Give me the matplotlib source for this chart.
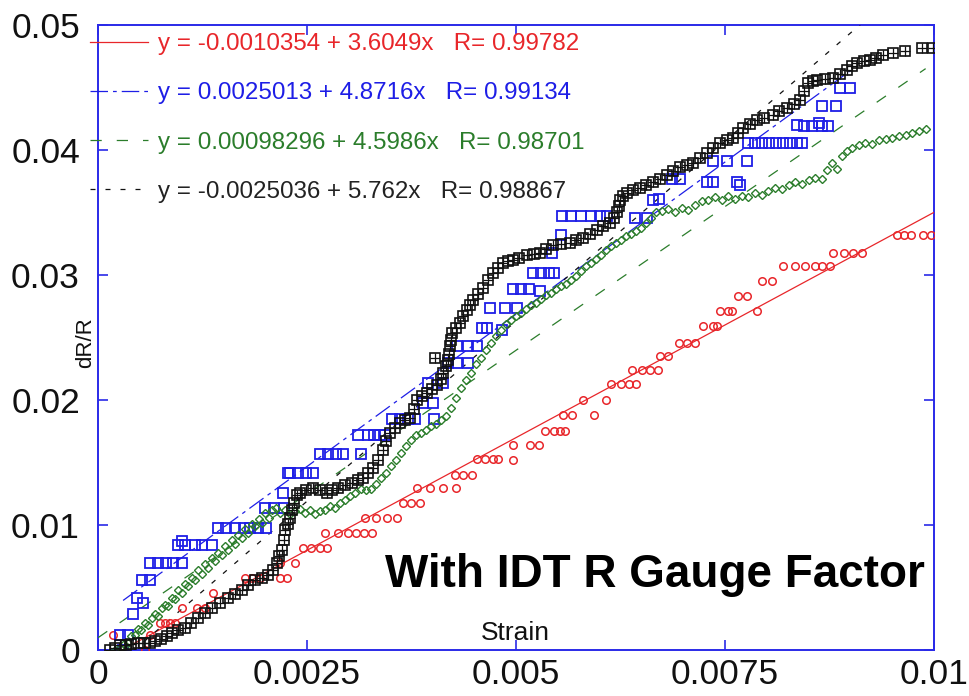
import matplotlib
matplotlib.use('Agg')
import matplotlib.pyplot as plt
import numpy as np

plt.rcParams['font.family'] = ['Liberation Sans', 'DejaVu Sans']

# ---------------- data (strain, dR/R) ----------------
red_pts = [
    (0.00018, 0.0012), (0.00056, 0.0000), (0.00062, 0.0012), (0.00074, 0.0022), (0.00080, 0.0022),
    (0.00086, 0.0022), (0.00092, 0.0022), (0.00100, 0.0034), (0.00118, 0.0034), (0.00128, 0.0034),
    (0.00137, 0.0046), (0.00176, 0.0058), (0.00184, 0.0058), (0.00194, 0.0058), (0.00218, 0.0058),
    (0.00226, 0.0058), (0.00218, 0.0070), (0.00236, 0.0070), (0.00245, 0.0082), (0.00255, 0.0082),
    (0.00265, 0.0082), (0.00274, 0.0082), (0.00272, 0.0094), (0.00287, 0.0094), (0.00299, 0.0094),
    (0.00309, 0.0094), (0.00318, 0.0094), (0.00328, 0.0094), (0.00319, 0.0106), (0.00333, 0.0106),
    (0.00346, 0.0106), (0.00358, 0.0106), (0.00365, 0.0118), (0.00374, 0.0118), (0.00385, 0.0118),
    (0.00382, 0.0130), (0.00397, 0.0130), (0.00413, 0.0130), (0.00428, 0.0130), (0.00427, 0.0140),
    (0.00437, 0.0140), (0.00447, 0.0140), (0.00453, 0.0153), (0.00463, 0.0153), (0.00472, 0.0153),
    (0.00478, 0.0153), (0.00497, 0.0152), (0.00497, 0.0164), (0.00517, 0.0164), (0.00527, 0.0164),
    (0.00535, 0.0175), (0.00546, 0.0175), (0.00553, 0.0175), (0.00559, 0.0175), (0.00556, 0.0188),
    (0.00567, 0.0188), (0.00593, 0.0188), (0.00580, 0.0200), (0.00608, 0.0200), (0.00614, 0.0213),
    (0.00626, 0.0213), (0.00635, 0.0213), (0.00644, 0.0213), (0.00639, 0.0224), (0.00651, 0.0224),
    (0.00660, 0.0224), (0.00670, 0.0224), (0.00672, 0.0235), (0.00682, 0.0235), (0.00695, 0.0246),
    (0.00704, 0.0246), (0.00714, 0.0246), (0.00724, 0.0259), (0.00736, 0.0259), (0.00740, 0.0259),
    (0.00744, 0.0271), (0.00753, 0.0271), (0.00758, 0.0271), (0.00788, 0.0271), (0.00766, 0.0283),
    (0.00776, 0.0283), (0.00794, 0.0295), (0.00806, 0.0295), (0.00819, 0.0307), (0.00834, 0.0307),
    (0.00846, 0.0307), (0.00858, 0.0307), (0.00866, 0.0307), (0.00876, 0.0307), (0.00879, 0.0318),
    (0.00892, 0.0318), (0.00903, 0.0318), (0.00914, 0.0318), (0.00956, 0.0332), (0.00964, 0.0332),
    (0.00972, 0.0332), (0.00987, 0.0332), (0.00997, 0.0332),
]

blue_pts = [
    (0.00026, 0.0012), (0.00036, 0.0012), (0.00030, 0.0000), (0.00042, 0.0029), (0.00047, 0.0042),
    (0.00054, 0.0038), (0.00053, 0.0056), (0.00062, 0.0056), (0.00062, 0.0070), (0.00072, 0.0070),
    (0.00081, 0.0070), (0.00090, 0.0070), (0.00100, 0.0070), (0.00096, 0.0084), (0.00104, 0.0084),
    (0.00100, 0.0087), (0.00116, 0.0084), (0.00124, 0.0084), (0.00136, 0.0084), (0.00144, 0.0098),
    (0.00153, 0.0098), (0.00164, 0.0098), (0.00175, 0.0098), (0.00182, 0.0098), (0.00191, 0.0098),
    (0.00201, 0.0098), (0.00200, 0.0114), (0.00210, 0.0114), (0.00222, 0.0114), (0.00221, 0.0126),
    (0.00227, 0.0142), (0.00230, 0.0142), (0.00239, 0.0142), (0.00249, 0.0142), (0.00257, 0.0142),
    (0.00266, 0.0157), (0.00275, 0.0157), (0.00285, 0.0157), (0.00293, 0.0157), (0.00315, 0.0157),
    (0.00311, 0.0172), (0.00323, 0.0172), (0.00330, 0.0172), (0.00337, 0.0172), (0.00343, 0.0172),
    (0.00352, 0.0185), (0.00361, 0.0185), (0.00371, 0.0185), (0.00379, 0.0185), (0.00402, 0.0185),
    (0.00389, 0.0198), (0.00401, 0.0198), (0.00395, 0.0214), (0.00413, 0.0214), (0.00419, 0.0230),
    (0.00429, 0.0230), (0.00443, 0.0230), (0.00429, 0.0243), (0.00443, 0.0243), (0.00453, 0.0243),
    (0.00459, 0.0258), (0.00465, 0.0258), (0.00483, 0.0256), (0.00469, 0.0274), (0.00487, 0.0274),
    (0.00501, 0.0274), (0.00497, 0.0289), (0.00506, 0.0289), (0.00515, 0.0289), (0.00529, 0.0287),
    (0.00520, 0.0302), (0.00530, 0.0302), (0.00539, 0.0302), (0.00546, 0.0302), (0.00543, 0.0318),
    (0.00554, 0.0332), (0.00555, 0.0347), (0.00566, 0.0347), (0.00578, 0.0347), (0.00590, 0.0347),
    (0.00600, 0.0347), (0.00609, 0.0347), (0.00642, 0.0346), (0.00657, 0.0346), (0.00664, 0.0360),
    (0.00671, 0.0361), (0.00687, 0.0377), (0.00696, 0.0377), (0.00728, 0.0374), (0.00736, 0.0374),
    (0.00764, 0.0374), (0.00768, 0.0372), (0.00736, 0.0391), (0.00752, 0.0391), (0.00776, 0.0391),
    (0.00778, 0.0406), (0.00786, 0.0406), (0.00794, 0.0406), (0.00803, 0.0406), (0.00811, 0.0406),
    (0.00819, 0.0406), (0.00828, 0.0406), (0.00836, 0.0406), (0.00842, 0.0406), (0.00836, 0.0420),
    (0.00844, 0.0419), (0.00854, 0.0419), (0.00862, 0.0422), (0.00866, 0.0419), (0.00873, 0.0419),
    (0.00866, 0.0435), (0.00883, 0.0435), (0.00888, 0.0450), (0.00899, 0.0450),
]

green_pts = [
    (0.00020, 0.0000), (0.00026, 0.0002), (0.00031, 0.0005), (0.00036, 0.0006), (0.00040, 0.0011),
    (0.00044, 0.0012), (0.00048, 0.0017), (0.00052, 0.0016), (0.00056, 0.0022), (0.00060, 0.0020),
    (0.00064, 0.0026), (0.00068, 0.0029), (0.00072, 0.0027), (0.00076, 0.0034), (0.00080, 0.0036),
    (0.00084, 0.0035), (0.00088, 0.0042), (0.00092, 0.0041), (0.00096, 0.0048), (0.00100, 0.0046),
    (0.00104, 0.0053), (0.00108, 0.0051), (0.00112, 0.0058), (0.00116, 0.0056), (0.00120, 0.0064),
    (0.00124, 0.0061), (0.00128, 0.0069), (0.00132, 0.0066), (0.00136, 0.0074), (0.00140, 0.0071),
    (0.00144, 0.0078), (0.00148, 0.0076), (0.00152, 0.0083), (0.00156, 0.0080), (0.00160, 0.0088),
    (0.00164, 0.0085), (0.00168, 0.0092), (0.00172, 0.0090), (0.00176, 0.0097), (0.00180, 0.0094),
    (0.00184, 0.0101), (0.00188, 0.0099), (0.00192, 0.0105), (0.00196, 0.0102), (0.00200, 0.0110),
    (0.00204, 0.0106), (0.00208, 0.0112), (0.00213, 0.0114), (0.00218, 0.0110), (0.00224, 0.0112),
    (0.00230, 0.0109), (0.00236, 0.0111), (0.00242, 0.0113), (0.00248, 0.0110), (0.00254, 0.0112),
    (0.00260, 0.0109), (0.00266, 0.0111), (0.00272, 0.0112), (0.00278, 0.0115), (0.00284, 0.0114),
    (0.00290, 0.0118), (0.00296, 0.0120), (0.00302, 0.0123), (0.00308, 0.0126), (0.00314, 0.0129),
    (0.00320, 0.0128), (0.00326, 0.0129), (0.00332, 0.0133), (0.00338, 0.0138), (0.00344, 0.0142),
    (0.00350, 0.0147), (0.00356, 0.0152), (0.00362, 0.0158), (0.00368, 0.0163), (0.00374, 0.0168),
    (0.00380, 0.0172), (0.00386, 0.0174), (0.00392, 0.0176), (0.00398, 0.0179), (0.00404, 0.0181),
    (0.00410, 0.0184), (0.00416, 0.0187), (0.00422, 0.0194), (0.00428, 0.0202), (0.00434, 0.0210),
    (0.00440, 0.0216), (0.00446, 0.0222), (0.00452, 0.0229), (0.00458, 0.0234), (0.00464, 0.0240),
    (0.00470, 0.0246), (0.00476, 0.0251), (0.00482, 0.0256), (0.00488, 0.0261), (0.00494, 0.0264),
    (0.00500, 0.0267), (0.00506, 0.0270), (0.00512, 0.0273), (0.00518, 0.0276), (0.00524, 0.0278),
    (0.00530, 0.0281), (0.00536, 0.0284), (0.00542, 0.0286), (0.00548, 0.0289), (0.00554, 0.0291),
    (0.00560, 0.0293), (0.00566, 0.0296), (0.00572, 0.0299), (0.00578, 0.0303), (0.00584, 0.0307),
    (0.00590, 0.0310), (0.00596, 0.0313), (0.00602, 0.0316), (0.00608, 0.0320), (0.00614, 0.0323),
    (0.00620, 0.0326), (0.00626, 0.0328), (0.00632, 0.0331), (0.00638, 0.0333), (0.00644, 0.0335),
    (0.00650, 0.0338), (0.00656, 0.0342), (0.00662, 0.0346), (0.00668, 0.0350), (0.00675, 0.0351),
    (0.00682, 0.0353), (0.00690, 0.0350), (0.00698, 0.0354), (0.00706, 0.0352), (0.00714, 0.0356),
    (0.00722, 0.0359), (0.00730, 0.0360), (0.00738, 0.0362), (0.00746, 0.0360), (0.00754, 0.0363),
    (0.00762, 0.0361), (0.00770, 0.0363), (0.00778, 0.0362), (0.00786, 0.0366), (0.00794, 0.0364),
    (0.00802, 0.0367), (0.00810, 0.0370), (0.00818, 0.0369), (0.00826, 0.0372), (0.00834, 0.0374),
    (0.00842, 0.0373), (0.00850, 0.0376), (0.00858, 0.0378), (0.00866, 0.0377), (0.00872, 0.0384),
    (0.00878, 0.0390), (0.00884, 0.0385), (0.00890, 0.0395), (0.00896, 0.0399), (0.00902, 0.0402),
    (0.00910, 0.0404), (0.00918, 0.0406), (0.00926, 0.0405), (0.00934, 0.0408), (0.00942, 0.0409),
    (0.00950, 0.0410), (0.00958, 0.0411), (0.00966, 0.0412), (0.00974, 0.0414), (0.00982, 0.0415),
    (0.00990, 0.0417),
]

black_pts = [
    (0.00014, 0.0000), (0.00020, 0.0002), (0.00026, 0.0004), (0.00033, 0.0004), (0.00040, 0.0005),
    (0.00048, 0.0006), (0.00055, 0.0006), (0.00062, 0.0006), (0.00068, 0.0007), (0.00075, 0.0009),
    (0.00082, 0.0011), (0.00089, 0.0014), (0.00096, 0.0016), (0.00104, 0.0018), (0.00111, 0.0022),
    (0.00120, 0.0026), (0.00128, 0.0030), (0.00136, 0.0034), (0.00146, 0.0038), (0.00156, 0.0042),
    (0.00164, 0.0045), (0.00172, 0.0048), (0.00180, 0.0052), (0.00188, 0.0056), (0.00196, 0.0058),
    (0.00203, 0.0060), (0.00209, 0.0064), (0.00214, 0.0070), (0.00217, 0.0075), (0.00220, 0.0080),
    (0.00222, 0.0088), (0.00224, 0.0096), (0.00227, 0.0101), (0.00230, 0.0106), (0.00232, 0.0112),
    (0.00235, 0.0118), (0.00238, 0.0124), (0.00242, 0.0126), (0.00249, 0.0128), (0.00257, 0.0130),
    (0.00265, 0.0128), (0.00274, 0.0126), (0.00280, 0.0128), (0.00287, 0.0130), (0.00295, 0.0132),
    (0.00304, 0.0134), (0.00311, 0.0136), (0.00317, 0.0138), (0.00323, 0.0142), (0.00329, 0.0146),
    (0.00335, 0.0152), (0.00341, 0.0160), (0.00345, 0.0167), (0.00349, 0.0174), (0.00355, 0.0178),
    (0.00361, 0.0182), (0.00367, 0.0184), (0.00373, 0.0186), (0.00378, 0.0193), (0.00382, 0.0200),
    (0.00388, 0.0203), (0.00394, 0.0206), (0.00400, 0.0209), (0.00406, 0.0212), (0.00410, 0.0217),
    (0.00413, 0.0222), (0.00416, 0.0227), (0.00419, 0.0232), (0.00420, 0.0237), (0.00421, 0.0243),
    (0.00422, 0.0248), (0.00423, 0.0254), (0.00428, 0.0258), (0.00433, 0.0262), (0.00437, 0.0267),
    (0.00441, 0.0272), (0.00445, 0.0276), (0.00449, 0.0280), (0.00455, 0.0285), (0.00461, 0.0290),
    (0.00466, 0.0296), (0.00472, 0.0302), (0.00478, 0.0306), (0.00484, 0.0310), (0.00490, 0.0311),
    (0.00496, 0.0312), (0.00504, 0.0314), (0.00513, 0.0316), (0.00521, 0.0317), (0.00529, 0.0318),
    (0.00536, 0.0321), (0.00544, 0.0324), (0.00554, 0.0325), (0.00565, 0.0326), (0.00572, 0.0328),
    (0.00580, 0.0330), (0.00589, 0.0333), (0.00597, 0.0336), (0.00604, 0.0339), (0.00612, 0.0342),
    (0.00617, 0.0346), (0.00621, 0.0350), (0.00623, 0.0355), (0.00624, 0.0360), (0.00628, 0.0363),
    (0.00633, 0.0366), (0.00640, 0.0368), (0.00648, 0.0370), (0.00656, 0.0372), (0.00664, 0.0374),
    (0.00672, 0.0377), (0.00681, 0.0380), (0.00688, 0.0383), (0.00696, 0.0386), (0.00704, 0.0388),
    (0.00712, 0.0390), (0.00720, 0.0394), (0.00728, 0.0398), (0.00736, 0.0402), (0.00744, 0.0406),
    (0.00752, 0.0408), (0.00760, 0.0410), (0.00766, 0.0414), (0.00772, 0.0418), (0.00780, 0.0421),
    (0.00788, 0.0424), (0.00797, 0.0426), (0.00807, 0.0428), (0.00815, 0.0431), (0.00824, 0.0434),
    (0.00832, 0.0437), (0.00840, 0.0440), (0.00845, 0.0447), (0.00849, 0.0454), (0.00855, 0.0455),
    (0.00860, 0.0456), (0.00870, 0.0457), (0.00879, 0.0458), (0.00888, 0.0461), (0.00896, 0.0464),
    (0.00902, 0.0467), (0.00908, 0.0470), (0.00916, 0.0471), (0.00923, 0.0472), (0.00931, 0.0474),
    (0.00939, 0.0476), (0.00951, 0.0478), (0.00965, 0.0479), (0.00986, 0.0482), (0.00999, 0.0482),
    (0.00403, 0.0234),
]

# linear fits shown in the chart: intercept, slope, R, x-range
fit_intercepts = [-0.0010354, 0.0025013, 0.00098296, -0.0025036]
fit_slopes = [3.6049, 4.8716, 4.5986, 5.762]
fit_R = ["0.99782", "0.99134", "0.98701", "0.98867"]
fit_intercept_txt = ["-0.0010354", "0.0025013", "0.00098296", "-0.0025036"]
fit_slope_txt = ["3.6049", "4.8716", "4.5986", "5.762"]
fit_xranges = [(0.0, 0.01), (0.0003, 0.009), (0.0, 0.0099), (0.0, 0.01)]

x_ticks = [0, 0.0025, 0.005, 0.0075, 0.01]
x_ticklabels = ["0", "0.0025", "0.005", "0.0075", "0.01"]
y_ticks = [0, 0.01, 0.02, 0.03, 0.04, 0.05]
y_ticklabels = ["0", "0.01", "0.02", "0.03", "0.04", "0.05"]

# ---------------- styling ----------------
RED = '#e8262a'
BLUE = '#1e1ee6'
GREEN = '#2b7d2b'
BLACK = '#111111'
SPINE = '#2a2ae8'

fig = plt.figure(figsize=(9.69, 6.96), dpi=100)
ax = fig.add_axes([98/969, 46/696, 836/969, 625/696])
ax.set_xlim(0, 0.01)
ax.set_ylim(0, 0.05)

# fit lines
line_styles = [
    dict(color=RED, lw=0.9, ls='-'),
    dict(color=BLUE, lw=0.9, dashes=(14, 4, 3, 4)),
    dict(color=GREEN, lw=0.9, dashes=(9, 12)),
    dict(color=BLACK, lw=0.9, dashes=(4, 8)),
]
handles = []
for a, b, (x0, x1), st in zip(fit_intercepts, fit_slopes, fit_xranges, line_styles):
    xs = np.array([x0, x1])
    h, = ax.plot(xs, a + b * xs, zorder=3, **st)
    handles.append(h)

# data
rx, ry = zip(*red_pts)
bx, by = zip(*blue_pts)
gx, gy = zip(*green_pts)
kx, ky = zip(*black_pts)
ax.plot(rx, ry, ls='none', marker='o', ms=5.4, mfc='none', mec=RED, mew=1.1, zorder=4)
ax.plot(bx, by, ls='none', marker='s', ms=7.0, mfc='none', mec=BLUE, mew=1.3, zorder=4)
ax.plot(gx, gy, ls='none', marker='D', ms=4.2, mfc='none', mec=GREEN, mew=1.0, zorder=5)
ax.plot(kx, ky, ls='none', marker='s', ms=7.4, mfc='none', mec=BLACK, mew=1.2, zorder=6)
ax.plot(kx, ky, ls='none', marker='+', ms=7.4, mec=BLACK, mew=0.9, zorder=6)

# legend with fit equations
labels = [f"y = {i} + {s}x   R= {r}" for i, s, r in zip(fit_intercept_txt, fit_slope_txt, fit_R)]
leg = ax.legend(handles, labels, loc='upper left', bbox_to_anchor=(-8/836, 1 - 8/625),
                frameon=False, fontsize=17.4, handlelength=2.4, handletextpad=0.4,
                labelspacing=1.13, borderpad=0, borderaxespad=0)
for t, c in zip(leg.get_texts(), [RED, BLUE, GREEN, '#222222']):
    t.set_color(c)

# axes, ticks
ax.set_xticks(x_ticks)
ax.set_xticklabels(x_ticklabels)
ax.set_yticks(y_ticks)
ax.set_yticklabels(y_ticklabels)
ax.tick_params(axis='both', direction='in', length=7, width=1.2, color=SPINE,
               top=True, right=True, labelsize=25.5, labelcolor='#111111')
ax.tick_params(axis='x', pad=6)
ax.tick_params(axis='y', pad=13)
for sp in ax.spines.values():
    sp.set_color(SPINE)
    sp.set_linewidth(1.4)

ax.text(-0.0144, 0.491, 'dR/R', rotation=90, transform=ax.transAxes,
        ha='center', va='center', fontsize=16, color='#111111')
ax.text(0.499, 0.016, 'Strain', transform=ax.transAxes, ha='center', va='baseline',
        fontsize=19, color='#111111')
ax.text(0.989, 0.1008, 'With IDT R Gauge Factor', transform=ax.transAxes, ha='right',
        va='baseline', fontsize=33, fontweight='bold', color='black')

fig.savefig('out.png', dpi=100)
